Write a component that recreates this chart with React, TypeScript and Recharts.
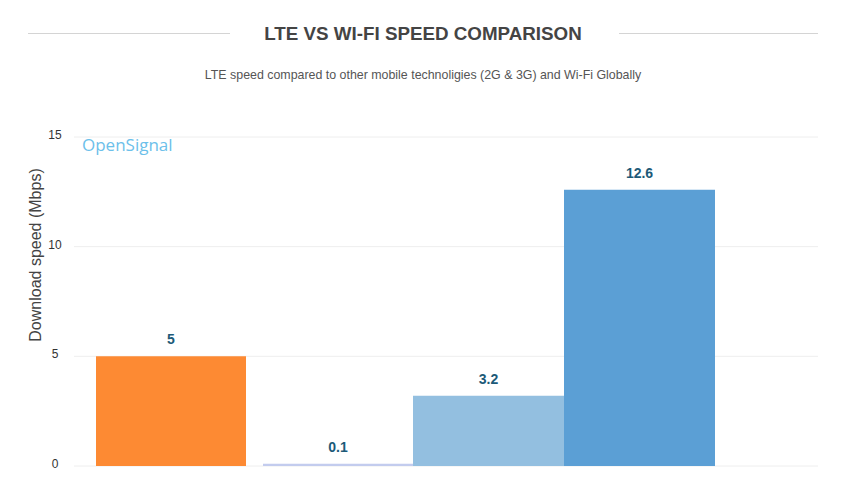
import React from 'react';
import { BarChart, Bar, XAxis, YAxis, CartesianGrid, LabelList } from 'recharts';

const categories = ['Global'];
const lteSpeed = [5];
const g2Speed = [0.1];
const g3Speed = [3.2];
const wifiSpeed = [12.6];
const yTicks = [0, 5, 10, 15];

const data = categories.map((c, i) => ({
  name: c,
  lte: lteSpeed[i],
  gap: 0,
  g2: g2Speed[i],
  g3: g3Speed[i],
  wifi: wifiSpeed[i],
  pad: 0,
}));

const FONT = '"Liberation Sans", Arial, Helvetica, sans-serif';
const LABEL_COLOR = '#1d5a78';

const YTick = (props: any) => {
  const { y, payload } = props;
  return (
    <text x={55} y={y + 2} textAnchor="middle" fontSize={12} fill="#333" fontFamily={FONT}>
      {payload.value}
    </text>
  );
};

const labelStyle = { fontSize: 14, fontWeight: 700, fill: LABEL_COLOR, fontFamily: FONT } as any;

export default function App() {
  return (
    <div style={{ position: 'absolute', left: 0, top: 0, width: 846, height: 488, background: '#fff', overflow: 'hidden', fontFamily: FONT }}>
      <div style={{ position: 'absolute', left: 28, top: 33, width: 202, height: 1, background: '#d4d4d4' }} />
      <div style={{ position: 'absolute', left: 619, top: 33, width: 199, height: 1, background: '#d4d4d4' }} />
      <div style={{ position: 'absolute', left: 0, top: 21, width: 846, textAlign: 'center', fontSize: 18.8, fontWeight: 700, color: '#444', lineHeight: '25px' }}>
        LTE VS WI-FI SPEED COMPARISON
      </div>
      <div style={{ position: 'absolute', left: 0, top: 67, width: 846, textAlign: 'center', fontSize: 12.4, color: '#555', lineHeight: '16px' }}>
        LTE speed compared to other mobile technoligies (2G &amp; 3G) and Wi-Fi Globally
      </div>
      <div style={{ position: 'absolute', left: 0, top: 0 }}>
        <BarChart width={846} height={488} data={data} margin={{ top: 137, right: 28, bottom: 22, left: 0 }} barGap={0} barCategoryGap={0}>
          <CartesianGrid horizontal={true} vertical={false} stroke="#eeeeee" />
          <XAxis dataKey="name" hide />
          <YAxis
            width={74}
            domain={[0, 15]}
            ticks={yTicks}
            axisLine={false}
            tickLine={false}
            tick={<YTick />}
            label={{
              content: () => (
                <text x={41} y={255} transform="rotate(-90 41 255)" textAnchor="middle" fontSize={16} fill="#444" fontFamily={FONT}>
                  Download speed (Mbps)
                </text>
              ),
            }}
          />
          <Bar dataKey="lte" barSize={150} fill="#fd8a33" isAnimationActive={false}>
            <LabelList dataKey="lte" position="top" offset={12} style={labelStyle} />
          </Bar>
          <Bar dataKey="gap" barSize={17} fill="none" isAnimationActive={false} />
          <Bar dataKey="g2" barSize={150} fill="#c3ccee" isAnimationActive={false}>
            <LabelList dataKey="g2" position="top" offset={12} style={labelStyle} />
          </Bar>
          <Bar dataKey="g3" barSize={151} fill="#93bfe0" isAnimationActive={false}>
            <LabelList dataKey="g3" position="top" offset={12} style={labelStyle} />
          </Bar>
          <Bar dataKey="wifi" barSize={151} fill="#5b9fd5" isAnimationActive={false}>
            <LabelList dataKey="wifi" position="top" offset={12} style={labelStyle} />
          </Bar>
          <Bar dataKey="pad" barSize={81} fill="none" isAnimationActive={false} />
        </BarChart>
      </div>
      <div style={{ position: 'absolute', left: 82, top: 134, fontSize: 17, color: '#6cc0ea', fontFamily: '"Open Sans", sans-serif', lineHeight: '22px' }}>
        OpenSignal
      </div>
    </div>
  );
}
